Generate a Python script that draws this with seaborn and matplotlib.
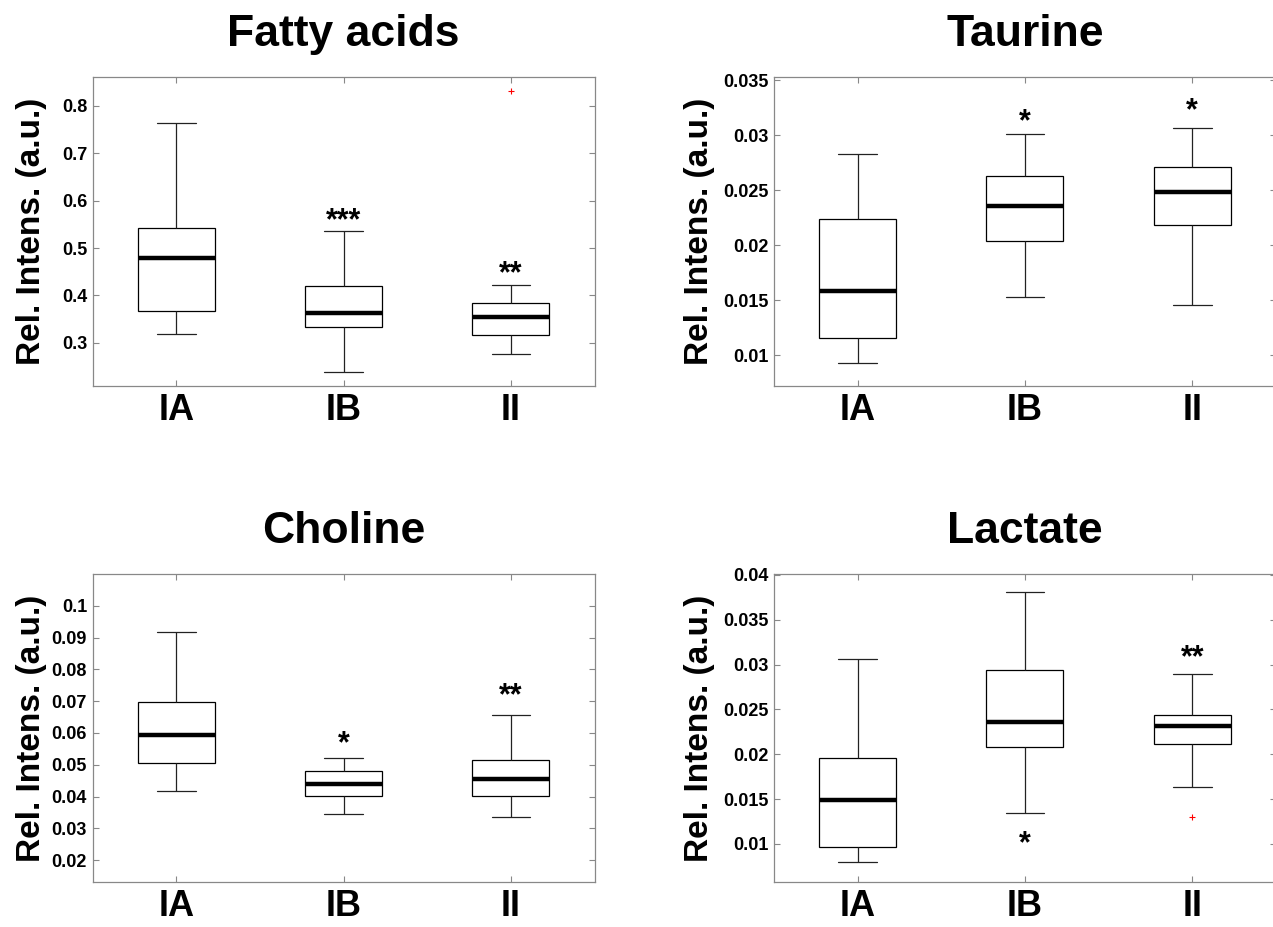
import numpy as np
import pandas as pd
import matplotlib
matplotlib.use('Agg')
import matplotlib.pyplot as plt
import seaborn as sns

sns.set_theme(style='white')
plt.rcParams['font.family'] = ['Liberation Sans', 'DejaVu Sans']
plt.rcParams['text.color'] = 'black'
plt.rcParams['axes.labelcolor'] = 'black'
plt.rcParams['xtick.color'] = 'black'
plt.rcParams['ytick.color'] = 'black'

groups = ['IA', 'IB', 'II']

# box stats (lower whisker, Q1, median, Q3, upper whisker, outlier)
fatty_low = [0.319, 0.239, 0.276]
fatty_q1 = [0.367, 0.333, 0.317]
fatty_med = [0.480, 0.362, 0.354]
fatty_q3 = [0.542, 0.420, 0.384]
fatty_high = [0.765, 0.537, 0.422]
fatty_out = [None, None, 0.832]

taurine_low = [0.00932, 0.01526, 0.01456]
taurine_q1 = [0.01155, 0.02041, 0.02188]
taurine_med = [0.01587, 0.02358, 0.02486]
taurine_q3 = [0.02236, 0.02632, 0.02714]
taurine_high = [0.02827, 0.03010, 0.03070]
taurine_out = [None, None, None]

choline_low = [0.0416, 0.0345, 0.0335]
choline_q1 = [0.0504, 0.0401, 0.0401]
choline_med = [0.0593, 0.0439, 0.0454]
choline_q3 = [0.0696, 0.0480, 0.0516]
choline_high = [0.0919, 0.0520, 0.0655]
choline_out = [None, None, None]

lactate_low = [0.0080, 0.0135, 0.0163]
lactate_q1 = [0.00963, 0.0208, 0.0211]
lactate_med = [0.0149, 0.0236, 0.0232]
lactate_q3 = [0.0196, 0.0294, 0.0244]
lactate_high = [0.0306, 0.0381, 0.0290]
lactate_out = [None, None, 0.0130]

# significance stars: (group, text, y of the glyph centre)
fatty_stars = [(1, '***', 0.576), (2, '**', 0.465)]
taurine_stars = [(1, '*', 0.0320), (2, '*', 0.0330)]
choline_stars = [(1, '*', 0.0593), (2, '**', 0.0745)]
lactate_stars = [(1, '*', 0.0110), (2, '**', 0.0318)]

fatty_ticks = [0.3, 0.4, 0.5, 0.6, 0.7, 0.8]
fatty_labels = ['0.3', '0.4', '0.5', '0.6', '0.7', '0.8']
taurine_ticks = [0.01, 0.015, 0.02, 0.025, 0.03, 0.035]
taurine_labels = ['0.01', '0.015', '0.02', '0.025', '0.03', '0.035']
choline_ticks = [0.02, 0.03, 0.04, 0.05, 0.06, 0.07, 0.08, 0.09, 0.1]
choline_labels = ['0.02', '0.03', '0.04', '0.05', '0.06', '0.07', '0.08', '0.09', '0.1']
lactate_ticks = [0.01, 0.015, 0.02, 0.025, 0.03, 0.035, 0.04]
lactate_labels = ['0.01', '0.015', '0.02', '0.025', '0.03', '0.035', '0.04']


def make_frame(low, q1, med, q3, high, out):
    # rebuild a small sample whose quartiles / whiskers match the read stats
    rows = []
    for i, g in enumerate(groups):
        if out[i] is None:
            vals = [low[i], q1[i], med[i], q3[i], high[i]]
        elif out[i] > q3[i]:
            vals = [low[i], q1[i], q1[i], med[i], med[i], med[i], q3[i], high[i], out[i]]
        else:
            vals = [out[i], low[i], q1[i], med[i], med[i], med[i], q3[i], q3[i], high[i]]
        for v in vals:
            rows.append({'group': g, 'value': v})
    return pd.DataFrame(rows)


panels = [
    ('Fatty acids', make_frame(fatty_low, fatty_q1, fatty_med, fatty_q3, fatty_high, fatty_out),
     fatty_stars, fatty_ticks, fatty_labels, (0.209, 0.861), [0.0728, 0.5836, 0.3943, 0.3333], -0.091),
    ('Taurine', make_frame(taurine_low, taurine_q1, taurine_med, taurine_q3, taurine_high, taurine_out),
     taurine_stars, taurine_ticks, taurine_labels, (0.0072, 0.0353), [0.608, 0.5836, 0.3943, 0.3333], -0.118),
    ('Choline', make_frame(choline_low, choline_q1, choline_med, choline_q3, choline_high, choline_out),
     choline_stars, choline_ticks, choline_labels, (0.0131, 0.110), [0.0728, 0.0485, 0.3943, 0.3323], -0.091),
    ('Lactate', make_frame(lactate_low, lactate_q1, lactate_med, lactate_q3, lactate_high, lactate_out),
     lactate_stars, lactate_ticks, lactate_labels, (0.00575, 0.0401), [0.608, 0.0485, 0.3943, 0.3323], -0.118),
]

fig = plt.figure(figsize=(12.73, 9.27), dpi=100)

for title, df, stars, ticks, labels, ylim, rect, lab_x in panels:
    ax = fig.add_axes(rect)
    sns.boxplot(data=df, x='group', y='value', ax=ax, order=groups,
                color='white', linecolor='black', linewidth=0.9, width=0.46,
                medianprops=dict(color='black', linewidth=3.2),
                whiskerprops=dict(color='#222222', linewidth=0.9),
                capprops=dict(color='#222222', linewidth=0.9),
                flierprops=dict(marker='+', color='red', markeredgecolor='red',
                                markerfacecolor='red', markersize=5, markeredgewidth=0.8))
    ax.set_xlim(-0.5, 2.5)
    ax.set_ylim(*ylim)
    ax.set_yticks(ticks)
    ax.set_yticklabels(labels, fontsize=13, fontweight='bold')
    ax.set_xticks(range(len(groups)))
    ax.set_xticklabels(groups, fontsize=26, fontweight='bold')
    ax.tick_params(axis='both', direction='in', length=4, width=0.8, color='#888888',
                   labelcolor='black', top=True, right=True, bottom=True, left=True)
    ax.tick_params(axis='x', pad=5)
    ax.tick_params(axis='y', pad=4)
    for sp in ax.spines.values():
        sp.set_color('#888888')
        sp.set_linewidth(0.9)
    ax.set_xlabel('')
    ax.set_ylabel('Rel. Intens. (a.u.)', fontsize=24, fontweight='bold')
    ax.yaxis.set_label_coords(lab_x, 0.5)
    ax.set_title(title, fontsize=32, fontweight='bold', pad=22)
    for gi, txt, y in stars:
        ax.annotate(txt, (gi, y), xytext=(0, -0.57 * 22), textcoords='offset points',
                    ha='center', va='baseline', fontsize=22, fontweight='bold')

fig.savefig('out.png', dpi=100, facecolor='white')
